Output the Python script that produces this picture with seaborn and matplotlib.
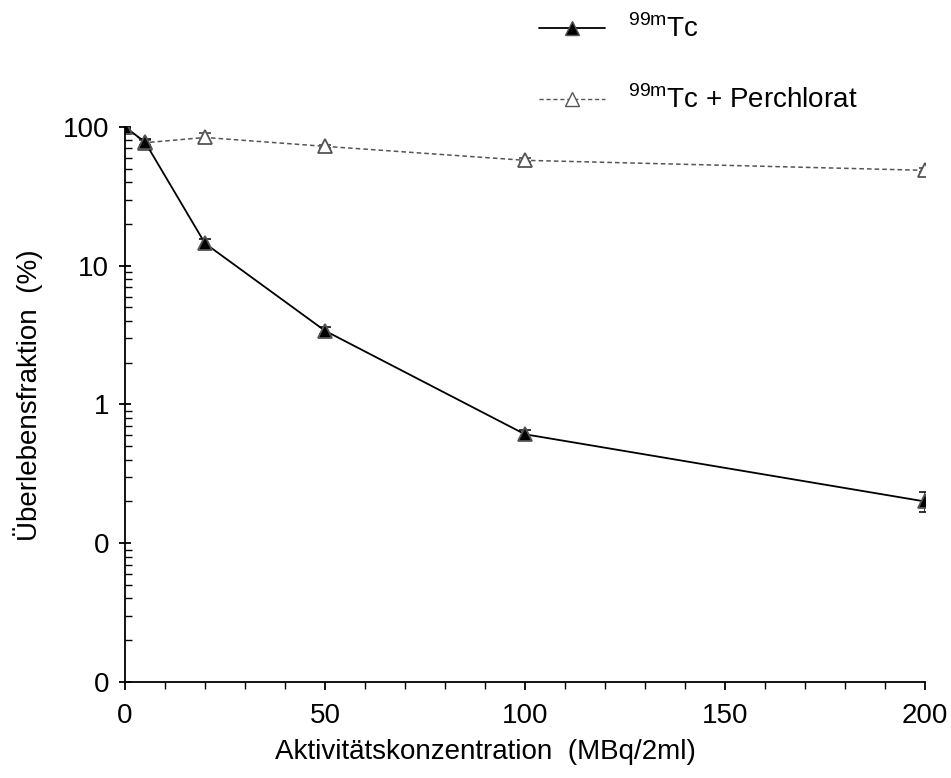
import matplotlib
matplotlib.use("Agg")
import matplotlib.pyplot as plt
import seaborn as sns
import pandas as pd
import numpy as np
from matplotlib.ticker import FixedLocator, FixedFormatter, LogLocator, MultipleLocator, NullFormatter
from matplotlib.lines import Line2D

sns.set_theme(style="ticks", rc={"text.color": "black", "axes.labelcolor": "black",
                                 "xtick.color": "black", "ytick.color": "black"})
plt.rcParams["font.family"] = ["Liberation Sans", "DejaVu Sans"]

# Activity concentration (MBq/2ml)
konzentration = [0, 5, 20, 50, 100, 200]
# Surviving fraction (%) with Tc-99m alone
tc_only = [100, 78, 14.5, 3.4, 0.61, 0.2]
tc_only_err = [3, 4, 1.0, 0.2, 0.04, 0.033]
# Surviving fraction (%) with Tc-99m + perchlorate
tc_perchlorat = [100, 77, 84, 72.5, 57.5, 48.7]
tc_perchlorat_err = [3, 3, 7, 2, 2, 1.5]

ytick_values = [100, 10, 1, 0.1, 0.01]
ytick_labels = ["100", "10", "1", "0", "0"]
xtick_values = [0, 50, 100, 150, 200]

label_tc = r"$^{\mathregular{99m}}$Tc"
label_tc_p = r"$^{\mathregular{99m}}$Tc + Perchlorat"

FS = 20

df = pd.DataFrame({
    "x": konzentration * 2,
    "y": tc_only + tc_perchlorat,
    "serie": ["tc"] * len(konzentration) + ["tcp"] * len(konzentration),
})

fig = plt.figure(figsize=(9.51, 7.78), dpi=100)
ax = fig.add_axes([0.1314, 0.1234, 0.8412, 0.7134])

ax.set_yscale("log")

# error bars
ax.errorbar(konzentration, tc_perchlorat, yerr=tc_perchlorat_err, fmt="none",
            ecolor="#444444", elinewidth=1.2, capsize=4, capthick=1.2, zorder=2)
ax.errorbar(konzentration, tc_only, yerr=tc_only_err, fmt="none",
            ecolor="#111111", elinewidth=1.2, capsize=4, capthick=1.2, zorder=2)

sns.lineplot(data=df[df.serie == "tcp"], x="x", y="y", ax=ax, color="#555555",
             linestyle=(0, (3, 2)), linewidth=1.1, marker="^", markersize=10,
             markerfacecolor="white", markeredgecolor="#555555", markeredgewidth=1.3,
             zorder=3)
sns.lineplot(data=df[df.serie == "tc"], x="x", y="y", ax=ax, color="black",
             linewidth=1.3, marker="^", markersize=10,
             markerfacecolor="black", markeredgecolor="#555555", markeredgewidth=1.3,
             zorder=4)

ax.set_xlim(0, 200)
ax.set_ylim(0.01, 100)
ax.spines["top"].set_visible(False)
ax.spines["right"].set_visible(False)
for s in ("left", "bottom"):
    ax.spines[s].set_linewidth(1.3)
    ax.spines[s].set_color("black")
ax.spines["left"].set_zorder(5)
ax.spines["bottom"].set_zorder(5)

ax.xaxis.set_major_locator(FixedLocator(xtick_values))
ax.xaxis.set_minor_locator(MultipleLocator(10))
ax.tick_params(axis="x", which="major", direction="out", length=6, width=1.3, labelsize=FS, pad=9, color="black")
ax.tick_params(axis="x", which="minor", direction="out", length=5, width=1.0, color="black")

ax.yaxis.set_major_locator(FixedLocator(ytick_values))
ax.yaxis.set_major_formatter(FixedFormatter(ytick_labels))
ax.yaxis.set_minor_locator(LogLocator(base=10, subs=np.arange(2, 10)))
ax.yaxis.set_minor_formatter(NullFormatter())
ax.tick_params(axis="y", which="major", direction="inout", length=9, width=1.3, labelsize=FS, pad=7, color="black")
ax.tick_params(axis="y", which="minor", direction="in", length=5, width=1.0, color="black")

ax.set_xlabel("Aktivitätskonzentration  (MBq/2ml)", fontsize=FS)
ax.set_ylabel("Überlebensfraktion  (%)", fontsize=FS)
ax.xaxis.set_label_coords(0.45, -0.103)
ax.yaxis.set_label_coords(-0.1025, 0.517)

handles = [
    Line2D([], [], color="black", linewidth=1.3, marker="^", markersize=10,
           markerfacecolor="black", markeredgecolor="#555555"),
    Line2D([], [], color="#555555", linewidth=1.0, linestyle=(0, (3, 2)), marker="^",
           markersize=10, markerfacecolor="white", markeredgecolor="#555555"),
]
fig.legend(handles, [label_tc, label_tc_p], loc="upper left",
           bbox_to_anchor=(0.541, 1.013), frameon=False, fontsize=FS,
           handlelength=2.35, handletextpad=0.85, labelspacing=1.53)

fig.savefig("out.png", dpi=100)
